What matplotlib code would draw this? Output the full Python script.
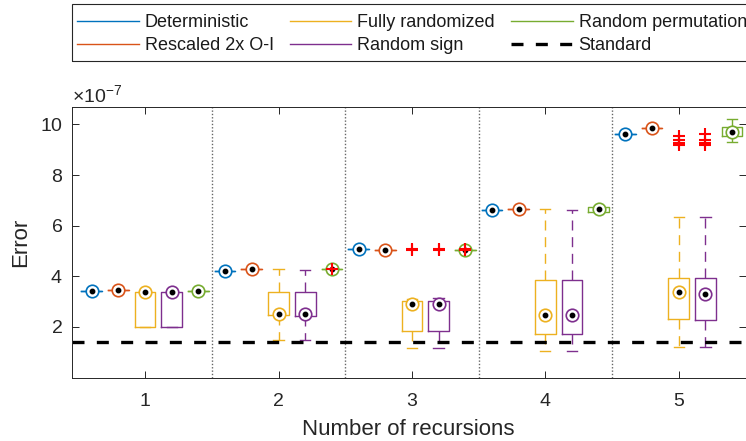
import matplotlib
matplotlib.use("Agg")
import matplotlib.pyplot as plt
from matplotlib.lines import Line2D
from matplotlib.patches import Rectangle
from matplotlib.ticker import ScalarFormatter

plt.rcParams["font.family"] = ["Liberation Sans", "DejaVu Sans"]
plt.rcParams["mathtext.fontset"] = "custom"
plt.rcParams["mathtext.rm"] = "Liberation Sans"
plt.rcParams["mathtext.it"] = "Liberation Sans:italic"
plt.rcParams["mathtext.default"] = "regular"

# ---- data (errors in units of 1e-7) ----
SCALE = 1e-7
recursions = [1, 2, 3, 4, 5]
standard_error = 1.40

methods = ["Deterministic", "Rescaled 2x O-I", "Fully randomized",
           "Random sign", "Random permutation"]
colors = ["#0072BD", "#D95319", "#EDB120", "#7E2F8E", "#77AC30"]
offsets = [-0.4, -0.2, 0.0, 0.2, 0.4]

det_med = [3.40, 4.21, 5.07, 6.63, 9.62]
det_q1 = [3.40, 4.21, 5.07, 6.63, 9.62]
det_q3 = [3.40, 4.21, 5.07, 6.63, 9.62]
det_lo = [3.40, 4.21, 5.07, 6.63, 9.62]
det_hi = [3.40, 4.21, 5.07, 6.63, 9.62]
det_out = [[], [], [], [], []]

res_med = [3.46, 4.29, 5.04, 6.67, 9.87]
res_q1 = [3.46, 4.29, 5.04, 6.67, 9.87]
res_q3 = [3.46, 4.29, 5.04, 6.67, 9.87]
res_lo = [3.46, 4.29, 5.04, 6.67, 9.87]
res_hi = [3.46, 4.29, 5.04, 6.67, 9.87]
res_out = [[], [], [], [], []]

full_med = [3.38, 2.51, 2.89, 2.48, 3.36]
full_q1 = [1.99, 2.45, 1.85, 1.73, 2.31]
full_q3 = [3.38, 3.37, 3.04, 3.86, 3.95]
full_lo = [1.99, 1.48, 1.17, 1.04, 1.21]
full_hi = [3.38, 4.29, 3.11, 6.64, 6.33]
full_out = [[], [], [5.02, 5.06], [], [9.53, 9.40, 9.28, 9.17]]

sign_med = [3.38, 2.49, 2.89, 2.48, 3.31]
sign_q1 = [1.99, 2.44, 1.82, 1.72, 2.28]
sign_q3 = [3.38, 3.36, 3.04, 3.86, 3.95]
sign_lo = [1.99, 1.48, 1.17, 1.04, 1.21]
sign_hi = [3.38, 4.25, 3.14, 6.61, 6.33]
sign_out = [[], [], [5.02, 5.06], [], [9.61, 9.37, 9.28, 9.20]]

perm_med = [3.40, 4.27, 5.04, 6.64, 9.72]
perm_q1 = [3.40, 4.27, 5.04, 6.53, 9.53]
perm_q3 = [3.40, 4.27, 5.04, 6.74, 9.90]
perm_lo = [3.40, 4.27, 5.04, 6.53, 9.30]
perm_hi = [3.40, 4.27, 5.04, 6.74, 10.22]
perm_out = [[], [4.29], [5.02, 5.08], [], []]

series = [
    (det_med, det_q1, det_q3, det_lo, det_hi, det_out),
    (res_med, res_q1, res_q3, res_lo, res_hi, res_out),
    (full_med, full_q1, full_q3, full_lo, full_hi, full_out),
    (sign_med, sign_q1, sign_q3, sign_lo, sign_hi, sign_out),
    (perm_med, perm_q1, perm_q3, perm_lo, perm_hi, perm_out),
]

# ---- figure ----
W, H = 746, 441
fig = plt.figure(figsize=(W / 100, H / 100), dpi=100)
ax = fig.add_axes([71.7 / W, 1 - 377.5 / H, (745.5 - 71.7) / W, (377.5 - 106.7) / H])

axis_col = "#262626"
whisker_dash = (0, (7.2, 4.8))

for name, col, off, (med, q1, q3, lo, hi, out) in zip(methods, colors, offsets, series):
    stats = []
    for i in range(len(recursions)):
        stats.append(dict(med=med[i] * SCALE, q1=q1[i] * SCALE, q3=q3[i] * SCALE,
                          whislo=lo[i] * SCALE, whishi=hi[i] * SCALE,
                          fliers=[v * SCALE for v in out[i]]))
    pos = [r + off for r in recursions]
    ax.bxp(stats, positions=pos, widths=0.155, capwidths=0.077,
           showfliers=True, manage_ticks=False, zorder=2,
           boxprops=dict(color=col, linewidth=1.0),
           whiskerprops=dict(color=col, linewidth=1.0, linestyle=whisker_dash),
           capprops=dict(color=col, linewidth=1.0),
           medianprops=dict(linestyle="none"),
           flierprops=dict(marker="+", markeredgecolor="red", markersize=8.5,
                           markeredgewidth=1.5, linestyle="none", zorder=5))
    # target-style median marker
    ax.plot(pos, [m * SCALE for m in med], linestyle="none", marker="o",
            markersize=9.0, markerfacecolor="white", markeredgecolor=col,
            markeredgewidth=1.2, zorder=3)
    ax.plot(pos, [m * SCALE for m in med], linestyle="none", marker="o",
            markersize=3.2, color="black", zorder=4)

# group separators between recursion counts
for a, b in zip(recursions[:-1], recursions[1:]):
    ax.axvline((a + b) / 2, color="0.4", linestyle=(0, (1, 1.4)), linewidth=1.0, zorder=1)

# standard method reference level
ax.axhline(standard_error * SCALE, color="black", linestyle=(0, (3.6, 3.7)),
           linewidth=2.4, zorder=2.5)

ax.set_xlim(0.45, 5.5)
ax.set_ylim(0, 10.7 * SCALE)
ax.set_xticks(recursions)
ax.set_yticks([v * SCALE for v in [2, 4, 6, 8, 10]])

fmt = ScalarFormatter(useMathText=True)
fmt.set_powerlimits((-7, -7))
ax.yaxis.set_major_formatter(fmt)
ax.yaxis.get_offset_text().set_fontsize(14)
ax.yaxis.get_offset_text().set_color(axis_col)

ax.tick_params(direction="in", top=True, right=True, length=4.8, width=0.7,
               colors=axis_col, labelsize=14)
ax.tick_params(axis="y", pad=6.5)
ax.tick_params(axis="x", pad=11)
for sp in ax.spines.values():
    sp.set_color(axis_col)
    sp.set_linewidth(0.7)

ax.set_xlabel("Number of recursions", fontsize=16, color=axis_col, labelpad=6.5)
ax.set_ylabel("Error", fontsize=16, color=axis_col, labelpad=6)

handles = [Line2D([], [], color=c, linewidth=1.0) for c in colors]
handles.append(Line2D([], [], color="black", linestyle=(0, (3.6, 3.7)), linewidth=2.4))
labels = methods + ["Standard"]
# column-major order: Det/Rescaled, Fully/Sign, Permutation/Standard
leg = fig.legend(handles, labels, ncol=3, loc="upper left",
                 bbox_to_anchor=(77.3 / W, 1 - 14.0 / H), bbox_transform=fig.transFigure,
                 borderaxespad=0, frameon=False, fontsize=13,
                 handlelength=3.4, handletextpad=0.33, columnspacing=0.9,
                 labelspacing=0.33, borderpad=0.0)
for t in leg.get_texts():
    t.set_color("#1a1a1a")
# legend frame
fig.add_artist(Rectangle((71.7 / W, 1 - 61.0 / H), (760 - 71.7) / W, 57.0 / H,
                         transform=fig.transFigure, fill=False,
                         edgecolor=axis_col, linewidth=0.8))

fig.savefig("out.png", dpi=100)
